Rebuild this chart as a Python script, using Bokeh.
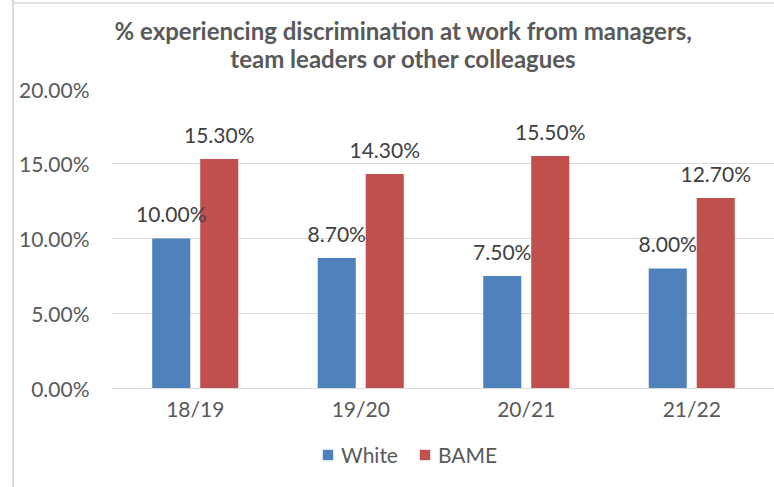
from bokeh.plotting import figure
from bokeh.layouts import column
from bokeh.models import (ColumnDataSource, FactorRange, Legend, LegendItem, LabelSet, Label,
                          PrintfTickFormatter, FixedTicker, InlineStyleSheet)
from bokeh.core.properties import value
from bokeh.transform import dodge
from bokeh.embed import file_html
from bokeh.resources import INLINE

categories = ["18/19", "19/20", "20/21", "21/22"]
white = [10.0, 8.7, 7.5, 8.0]
bame = [15.3, 14.3, 15.5, 12.7]
y_ticks = [0, 5, 10, 15, 20]
series_names = ["White", "BAME"]
title_lines = ["% experiencing discrimination at work from managers,",
               "team leaders or other colleagues"]

FONT = "Lato"
TXT = "#595959"
BLUE = "#4F81BD"
RED = "#C0504D"
FS = "21px"

src = ColumnDataSource(dict(
    cat=categories, white=white, bame=bame,
    white_lbl=[f"{v:.2f}%" for v in white],
    bame_lbl=[f"{v:.2f}%" for v in bame],
))

# ---- title strip ----
t = figure(width=774, height=76, output_backend="svg", toolbar_location=None,
           x_range=(0, 662), y_range=(0, 76), min_border=0, title_location=None)
t.axis.visible = False
t.grid.visible = False
t.outline_line_color = None
for txt, yy in ((title_lines[0], 46), (title_lines[1], 18)):
    t.add_layout(Label(x=291, y=yy, text=txt, text_align="center", text_baseline="middle",
                       text_font=FONT, text_font_size="24px", text_font_style="bold",
                       text_color=TXT))

# ---- main chart ----
p = figure(x_range=FactorRange(factors=categories, range_padding=0), y_range=(0, 20),
           width=774, height=347, output_backend="svg", toolbar_location=None,
           title_location=None,
           min_border_left=112, min_border_right=0, min_border_top=12, min_border_bottom=35)

r1 = p.vbar(x=dodge("cat", -0.145, range=p.x_range), top="white", width=0.23,
            source=src, fill_color=BLUE, line_color=None)
r2 = p.vbar(x=dodge("cat", 0.145, range=p.x_range), top="bame", width=0.23,
            source=src, fill_color=RED, line_color=None)

for key, off in (("white", -0.145), ("bame", 0.145)):
    p.add_layout(LabelSet(x=dodge("cat", off, range=p.x_range), y=key, text=key + "_lbl",
                          source=src, text_align="center", text_baseline="middle",
                          y_offset=25, text_font=value(FONT), text_font_size=value(FS),
                          text_color="#404040"))

p.yaxis.ticker = FixedTicker(ticks=y_ticks)
p.yaxis.formatter = PrintfTickFormatter(format="%.2f%%")
p.yaxis.axis_line_color = None
p.yaxis.major_tick_line_color = None
p.yaxis.minor_tick_line_color = None
p.yaxis.major_label_standoff = 17
p.yaxis.major_label_text_font = FONT
p.yaxis.major_label_text_font_size = FS
p.yaxis.major_label_text_color = TXT

p.xaxis.axis_line_color = "#D9D9D9"
p.xaxis.major_tick_line_color = None
p.xaxis.minor_tick_line_color = None
p.xaxis.major_label_standoff = 1
p.xaxis.major_label_text_font = FONT
p.xaxis.major_label_text_font_size = FS
p.xaxis.major_label_text_color = TXT

p.xgrid.grid_line_color = None
p.ygrid.grid_line_color = "#D9D9D9"
p.ygrid.grid_line_width = 1
p.outline_line_color = None

# ---- legend strip ----
q = figure(width=774, height=64, output_backend="svg", toolbar_location=None,
           x_range=p.x_range, y_range=p.y_range, min_border=0, title_location=None)
q.axis.visible = False
q.grid.visible = False
q.outline_line_color = None
l1 = q.vbar(x=dodge("cat", -0.145, range=p.x_range), top="white", width=0.23,
            source=src, fill_color=BLUE, line_color=None, visible=False)
l2 = q.vbar(x=dodge("cat", 0.145, range=p.x_range), top="bame", width=0.23,
            source=src, fill_color=RED, line_color=None, visible=False)
legend = Legend(items=[LegendItem(label=series_names[0], renderers=[l1]),
                       LegendItem(label=series_names[1], renderers=[l2])],
                orientation="horizontal", location=(209, 20),
                label_text_font=FONT, label_text_font_size=FS, label_text_color=TXT,
                glyph_width=13, glyph_height=13, border_line_color=None,
                background_fill_alpha=0, inactive_fill_alpha=0,
                spacing=20, padding=0, margin=0, label_standoff=7)
q.add_layout(legend)

# light grey sheet-cell border lines at the left and top of the chart area
border_css = InlineStyleSheet(css="""
:host::before { content: ""; position: absolute; left: 12px; top: 0px; width: 2px;
                height: 487px; background: #D9D9D9; pointer-events: none; z-index: 10; }
:host::after  { content: ""; position: absolute; left: 14px; top: 2px; width: 760px;
                height: 2px; background: #E3E3E3; pointer-events: none; z-index: 10; }
""")

layout = column(t, p, q, spacing=0, stylesheets=[border_css])
open("out.html", "w").write(file_html(layout, INLINE))
